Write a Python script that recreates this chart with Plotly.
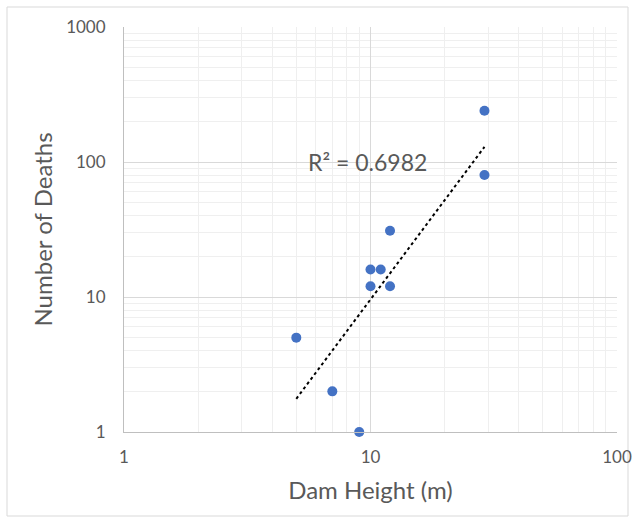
import numpy as np
import plotly.graph_objects as go

dam_height = [5, 7, 9, 10, 10, 11, 12, 12, 29, 29]
deaths = [5, 2, 1, 16, 12, 16, 12, 31, 240, 80]
x_ticks = [1, 10, 100]
y_ticks = [1, 10, 100, 1000]
r2_label = "R² = 0.6982"

# power trendline (least squares in log space)
lx = np.log10(dam_height)
ly = np.log10(deaths)
b, a = np.polyfit(lx, ly, 1)
tx = np.linspace(min(dam_height), max(dam_height), 60)
ty = 10 ** (a + b * np.log10(tx))

font = "Lato, Open Sans, sans-serif"
gray = "#595959"

fig = go.Figure()
fig.add_trace(go.Scatter(x=tx, y=ty, mode="lines",
                         line=dict(color="black", width=2, dash="dot"),
                         hoverinfo="skip", showlegend=False))
fig.add_trace(go.Scatter(x=dam_height, y=deaths, mode="markers",
                         marker=dict(color="#4472C4", size=10),
                         showlegend=False, cliponaxis=False))

axis_common = dict(type="log", showline=True, linecolor="#bfbfbf", linewidth=1,
                   gridcolor="#d9d9d9", gridwidth=1, zeroline=False,
                   tickfont=dict(family=font, size=17, color=gray),
                   ticks="", mirror=False, automargin=False,
                   minor=dict(showgrid=True, gridcolor="#efefef", gridwidth=1, dtick="D1", ticks=""))

fig.update_xaxes(range=[0, 2], tickvals=x_ticks, ticktext=[str(v) for v in x_ticks],
                 title=dict(text="Dam Height (m)", font=dict(family=font, size=24, color=gray), standoff=15),
                 ticklabelstandoff=10, **axis_common)
fig.update_yaxes(range=[0, 3], tickvals=y_ticks, ticktext=[str(v) for v in y_ticks],
                 title=dict(text="Number of Deaths", font=dict(family=font, size=24, color=gray), standoff=6),
                 ticklabelstandoff=14, **axis_common)

fig.add_annotation(text=r2_label, xref="paper", yref="paper", x=0.493, y=0.706,
                   showarrow=False, font=dict(family=font, size=23, color=gray))

fig.add_shape(type="rect", xref="paper", yref="paper",
              x0=(7 - 124) / 493, x1=(628 - 124) / 493,
              y0=(432 - 516) / 405, y1=(432 - 7) / 405,
              line=dict(color="#d9d9d9", width=1), layer="below")

fig.update_layout(width=635, height=523, margin=dict(l=124, r=18, t=27, b=91),
                  plot_bgcolor="white", paper_bgcolor="white")

fig.write_html("out.html")
